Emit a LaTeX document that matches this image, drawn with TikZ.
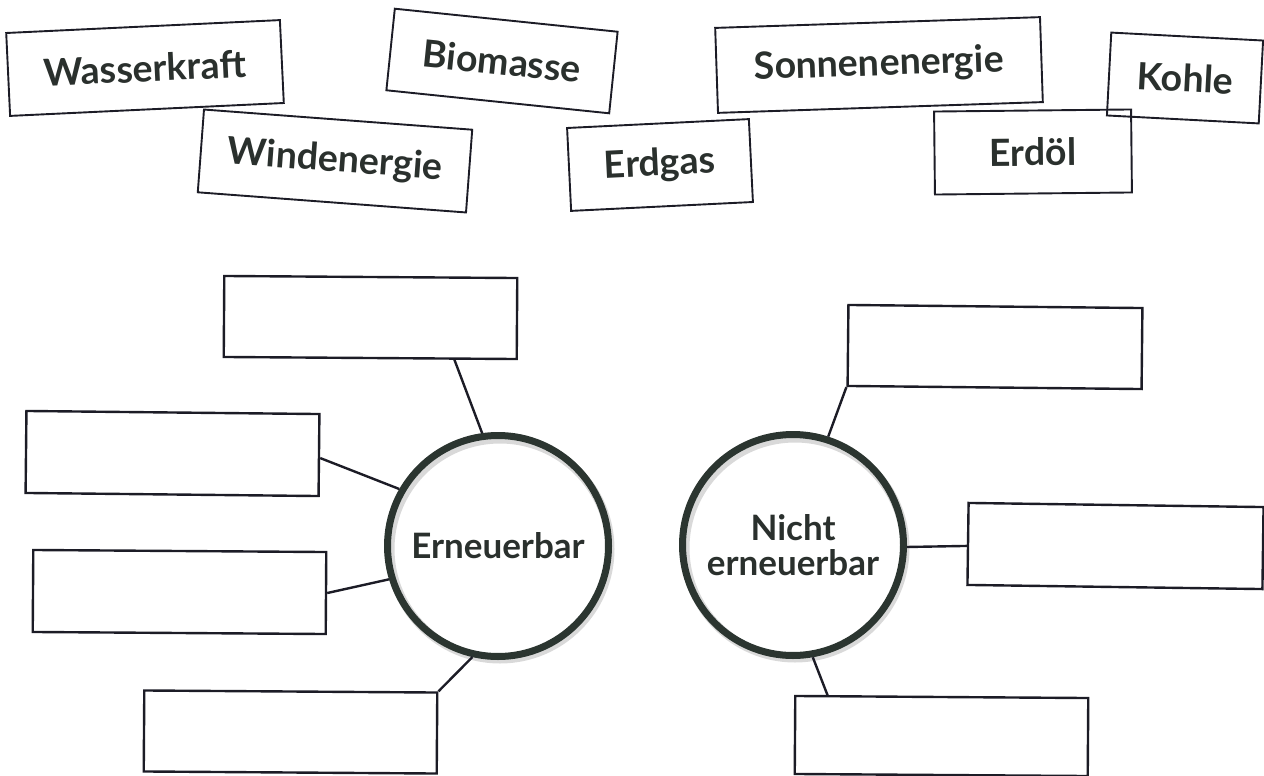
\documentclass[tikz,border=0pt]{standalone}
\usepackage{fontspec}
\setmainfont{Lato}
\definecolor{ink}{HTML}{2A302D}
\definecolor{boxline}{HTML}{1C1C26}
\definecolor{ring}{HTML}{2B3530}
\begin{document}
\begin{tikzpicture}[x=1pt,y=-1pt,
  card/.style={draw=boxline,line width=1.9pt,minimum height=83pt,inner sep=0pt,
    font=\fontsize{37.5}{42}\selectfont\bfseries,text=ink},
  emptybox/.style={draw=boxline,line width=2.4pt,minimum width=293pt,minimum height=81pt,inner sep=0pt},
  hub/.style={circle,draw=ring,line width=7pt,minimum size=221pt,inner sep=0pt,
    font=\fontsize{35}{38}\selectfont\bfseries,text=ink,align=center},
  link/.style={draw=boxline,line width=2.4pt},
  shade/.style={draw=black!15,line width=9pt}]
\useasboundingbox (0,0) rectangle (1264,776);
% word cards
\node[card,minimum width=274pt,rotate=2.7] (wasser) at (145,68) {Wasserkraft};
\node[card,minimum width=269pt,rotate=-4.3] (wind) at (335,161) {Windenergie};
\node[card,minimum width=224pt,minimum height=82pt,rotate=-5.9] (bio) at (502,61) {Biomasse};
\node[card,minimum width=182pt,rotate=2.8] (gas) at (660,165) {Erdgas};
\node[card,minimum width=325pt,minimum height=85pt,rotate=1.9] (sonne) at (879,65) {Sonnenenergie};
\node[card,minimum width=152pt,rotate=-3] (kohle) at (1185,78) {Kohle};
\node[card,minimum width=197pt,rotate=0.6] (oel) at (1033,152) {Erdöl};
% shadows of hubs
\draw[shade] (500,549) circle[radius=110];
\draw[shade] (795,548) circle[radius=110];
% hubs
\node[hub] (ern) at (498,546) {Erneuerbar};
\node[hub] (nicht) at (793,545) {Nicht\\[-3pt]erneuerbar};
% empty boxes
\node[emptybox,rotate=-0.4] (b1) at (370.5,317.5) {};
\node[emptybox,minimum height=82pt,rotate=-0.6] (b2) at (172.5,453.5) {};
\node[emptybox,minimum height=82pt,rotate=-0.4] (b3) at (179.5,592) {};
\node[emptybox,rotate=-0.4] (b4) at (290.5,732) {};
\node[emptybox,minimum width=294pt,rotate=-0.6] (b5) at (995,347) {};
\node[emptybox,minimum width=295pt,minimum height=82pt,rotate=-0.8] (b6) at (1115.5,546) {};
\node[emptybox,minimum height=78pt,rotate=-0.4] (b7) at (941.5,736) {};
% connectors
\draw[link] ([xshift=84pt]b1.south) -- (ern.98);
\draw[link] ([yshift=-3pt]b2.east) -- (ern.150);
\draw[link] (b3.east) -- (ern.197);
\draw[link] (b4.north east) -- (ern.257);
\draw[link] (b5.south west) -- (nicht.72);
\draw[link] ([yshift=-2pt]b6.west) -- (nicht.-1.5);
\draw[link] ([xshift=-114pt]b7.north) -- (nicht.280);
\end{tikzpicture}
\end{document}
